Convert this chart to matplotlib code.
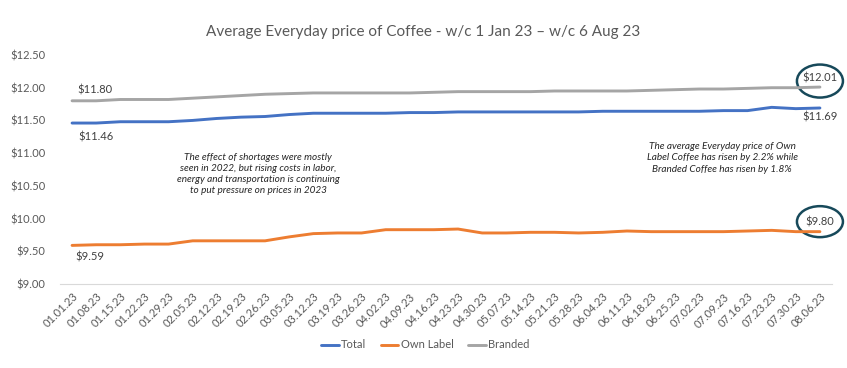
import matplotlib
matplotlib.use("Agg")
import matplotlib.pyplot as plt
from matplotlib.patches import Ellipse
from matplotlib.transforms import ScaledTranslation

plt.rcParams['font.family'] = ['Lato', 'DejaVu Sans']

dates = ["01.01.23", "01.08.23", "01.15.23", "01.22.23", "01.29.23", "02.05.23", "02.12.23", "02.19.23",
         "02.26.23", "03.05.23", "03.12.23", "03.19.23", "03.26.23", "04.02.23", "04.09.23", "04.16.23",
         "04.23.23", "04.30.23", "05.07.23", "05.14.23", "05.21.23", "05.28.23", "06.04.23", "06.11.23",
         "06.18.23", "06.25.23", "07.02.23", "07.09.23", "07.16.23", "07.23.23", "07.30.23", "08.06.23"]

total = [11.46, 11.46, 11.48, 11.48, 11.48, 11.50, 11.53, 11.55, 11.56, 11.59, 11.61, 11.61, 11.61, 11.61,
         11.62, 11.62, 11.63, 11.63, 11.63, 11.63, 11.63, 11.63, 11.64, 11.64, 11.64, 11.64, 11.64, 11.65,
         11.65, 11.70, 11.68, 11.69]
own_label = [9.59, 9.60, 9.60, 9.61, 9.61, 9.66, 9.66, 9.66, 9.66, 9.72, 9.77, 9.78, 9.78, 9.83, 9.83, 9.83,
             9.84, 9.78, 9.78, 9.79, 9.79, 9.78, 9.79, 9.81, 9.80, 9.80, 9.80, 9.80, 9.81, 9.82, 9.80, 9.80]
branded = [11.80, 11.80, 11.82, 11.82, 11.82, 11.84, 11.86, 11.88, 11.90, 11.91, 11.92, 11.92, 11.92, 11.92,
           11.92, 11.93, 11.94, 11.94, 11.94, 11.94, 11.95, 11.95, 11.95, 11.95, 11.96, 11.97, 11.98, 11.98,
           11.99, 12.00, 12.00, 12.01]

series_names = ["Total", "Own Label", "Branded"]
colors = ["#4472C4", "#ED7D31", "#A5A5A5"]
yticks = [9.0, 9.5, 10.0, 10.5, 11.0, 11.5, 12.0, 12.5]

title = "Average Everyday price of Coffee - w/c 1 Jan 23 \u2013 w/c 6 Aug 23"
note1 = ("The effect of shortages were mostly\nseen in 2022, but rising costs in labor,\n"
         "energy and transportation is continuing\nto put pressure on prices in 2023")
note2 = ("The average Everyday price of Own\nLabel Coffee has risen by 2.2% while\n"
         "Branded Coffee has risen by 1.8%")

txt = "#595959"
W, H = 847, 368
fig = plt.figure(figsize=(W / 100, H / 100), dpi=100)
ax = fig.add_axes([60 / W, (H - 284) / H, (832 - 60) / W, (284 - 55) / H])

x = list(range(len(dates)))
for vals, name, c in zip([total, own_label, branded], series_names, colors):
    ax.plot(x, vals, color=c, lw=2.1, label=name, solid_capstyle='round')

ax.set_xlim(-0.5, len(dates) - 0.5)
ax.set_ylim(9.0, 12.5)
ax.set_yticks(yticks)
ax.set_yticklabels([f"${v:.2f}" for v in yticks])
ax.set_xticks(x)
ax.set_xticklabels(dates, rotation=45, ha='right', rotation_mode='anchor')
ax.tick_params(axis='both', length=0, colors=txt, labelsize=8)
ax.tick_params(axis='y', pad=10.5)
ax.tick_params(axis='x', pad=5)
for s in ['top', 'right', 'left']:
    ax.spines[s].set_visible(False)
ax.spines['bottom'].set_color('#D9D9D9')

fig.text(0.5, (H - 32) / H, title, ha='center', va='center', fontsize=11, color=txt)

# data labels
lab_fs = 8
def lab(i, v, dy, dx=0):
    ax.annotate(f"${v:.2f}", (i, v), xytext=(dx, dy), textcoords='offset points',
                ha='center', va='center', fontsize=lab_fs, color="#404040")

lab(0, branded[0], 7.5, dx=16.5)
lab(0, total[0], -10, dx=17)
lab(0, own_label[0], -8, dx=12.5)
n = len(dates) - 1
lab(n, branded[n], 6.5)
lab(n, total[n], -6.8)
lab(n, own_label[n], 7)

circ = "#17495A"
for v, dy, w, h in [(branded[n], 0.06, 0.46, 0.33), (own_label[n], 0.10, 0.46, 0.31)]:
    tr = fig.dpi_scale_trans + ScaledTranslation(n, v, ax.transData)
    ax.add_patch(Ellipse((0, dy), w, h, transform=tr, fill=False, ec=circ, lw=1.8, clip_on=False))

fig.text(258 / W, (H - 174) / H, note1, ha='center', va='center', fontsize=7.2, style='italic',
         color="#262626", linespacing=1.3)
fig.text(722 / W, (H - 158) / H, note2, ha='center', va='center', fontsize=7.2, style='italic',
         color="#262626", linespacing=1.3)

leg = fig.legend(loc='center', bbox_to_anchor=(425 / W, (H - 345) / H), ncol=3, frameon=False,
                 fontsize=8, handlelength=1.6, columnspacing=1.3, handletextpad=0.2)
for t in leg.get_texts():
    t.set_color(txt)

fig.savefig("out.png", dpi=100)
